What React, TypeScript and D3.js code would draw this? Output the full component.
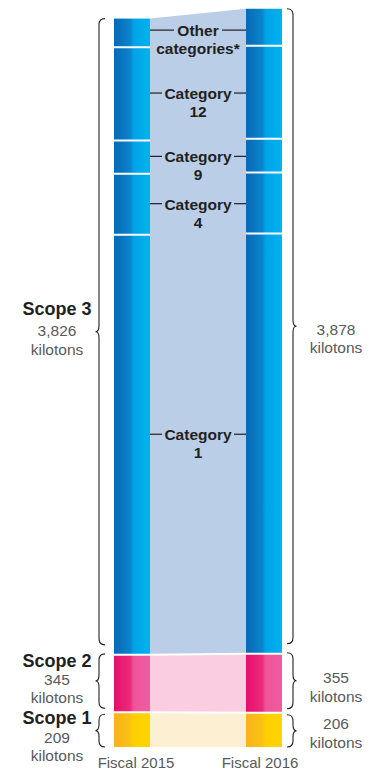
import React from "react";
import * as d3 from "d3";

const years = ["Fiscal 2015", "Fiscal 2016"];
const scopeNames = ["Scope 1", "Scope 2", "Scope 3"];
const scope1 = [209, 206];
const scope2 = [345, 355];
const scope3 = [3826, 3878];
const categoryNames = ["Category 1", "Category 4", "Category 9", "Category 12", "Other categories*"];
const categories2015 = [2526, 367, 200, 560, 173];
const categories2016 = [2526, 367, 204, 559, 222];
const unit = "kilotons";

const W = 373;
const H = 771;
const FONT = "'Liberation Sans', Arial, Helvetica, sans-serif";
const DARK = "#231f20";
const GREY = "#58595b";

function bracePath(x: number, y0: number, y1: number, ym: number, dir: number, end = 6, tip = 3.5) {
  const r = Math.min(6, (y1 - y0) / 4);
  return `M${x - dir * end},${y0} Q${x},${y0} ${x},${y0 + r} L${x},${ym - r} Q${x},${ym} ${x + dir * tip},${ym} Q${x},${ym} ${x},${ym + r} L${x},${y1 - r} Q${x},${y1} ${x - dir * end},${y1}`;
}

export default function App() {
  const x = d3.scaleBand<string>().domain(years).range([114, 282]).paddingInner(0.7273).paddingOuter(0);
  const bw = x.bandwidth();
  const y = d3.scaleLinear().domain([0, 4440]).range([747, 8.6]);

  const scopeVals = [scope1, scope2, scope3];
  const cats = [categories2015, categories2016];

  // cumulative boundaries per year
  const scopeBounds = years.map((_, i) => {
    let c = 0;
    return scopeVals.map((s) => {
      const b = [c, c + s[i]];
      c += s[i];
      return b;
    });
  });
  const catBounds = years.map((_, i) => {
    let c = scope1[i] + scope2[i];
    return cats[i].map((v) => {
      const b = [c, c + v];
      c += v;
      return b;
    });
  });

  const gradIds = ["gY", "gP", "gB"];
  const lightFill = ["#fdf0d2", "#fbcde1", "#bacee8"];

  const xL = x(years[0])!;
  const xR = x(years[1])!;

  const labelShift: Record<string, number> = { "Category 1": -10 };

  // left/right label offsets relative to brace tip (layout only)
  const leftDy = [[-7, 12, 30], [-14, 4, 22], [-17, 4, 23]];
  const rightDy = [[-2, 17], [2, 21], [9, 27]];

  const braces = scopeNames.map((_, s) => {
    return years.map((__, i) => {
      const b = scopeBounds[i][s];
      let y0 = y(b[1]);
      let y1 = y(b[0]);
      if (s === 2) { y1 -= 10; }
      if (s === 1) { y0 -= 1; y1 -= 4; }
      if (s === 0) { y0 += 2; }
      return { y0, y1, ym: (y0 + y1) / 2 };
    });
  });

  return (
    <svg width={W} height={H} style={{ position: "absolute", left: 0, top: 0 }} fontFamily={FONT}>
      <defs>
        <linearGradient id="gB" x1="0" x2="1" y1="0" y2="0">
          <stop offset="0" stopColor="#0a68b4" />
          <stop offset="0.45" stopColor="#0a84cc" />
          <stop offset="0.55" stopColor="#00a3e6" />
          <stop offset="1" stopColor="#00b2ef" />
        </linearGradient>
        <linearGradient id="gP" x1="0" x2="1" y1="0" y2="0">
          <stop offset="0" stopColor="#e60f6c" />
          <stop offset="0.45" stopColor="#ec2a7c" />
          <stop offset="0.55" stopColor="#ef559a" />
          <stop offset="1" stopColor="#ef5c9f" />
        </linearGradient>
        <linearGradient id="gY" x1="0" x2="1" y1="0" y2="0">
          <stop offset="0" stopColor="#f8b21d" />
          <stop offset="0.45" stopColor="#fbc213" />
          <stop offset="0.55" stopColor="#ffd000" />
          <stop offset="1" stopColor="#ffd400" />
        </linearGradient>
      </defs>

      {/* middle bands */}
      {scopeNames.map((_, s) => {
        const a = scopeBounds[0][s];
        const b = scopeBounds[1][s];
        const pts = [
          [xL + bw, y(a[1])],
          [xR, y(b[1])],
          [xR, y(b[0])],
          [xL + bw, y(a[0])],
        ];
        return <polygon key={s} points={pts.map((p) => p.join(",")).join(" ")} fill={lightFill[s]} />;
      })}

      {/* bars */}
      {years.map((yr, i) =>
        scopeBounds[i].map((b, s) => (
          <rect key={yr + s} x={x(yr)} y={y(b[1])} width={bw} height={y(b[0]) - y(b[1])} fill={`url(#${gradIds[s]})`} />
        ))
      )}

      {/* category separators on bars */}
      {years.map((yr, i) =>
        catBounds[i].slice(0, -1).map((b, c) => (
          <line key={yr + "c" + c} x1={x(yr)} x2={x(yr)! + bw} y1={y(b[1])} y2={y(b[1])} stroke="#fff" strokeWidth={2} />
        ))
      )}

      {/* scope separators across */}
      {[0, 1].map((s) => {
        const yl = y(scopeBounds[0][s][1]);
        const yr = y(scopeBounds[1][s][1]);
        return (
          <polyline key={"s" + s} points={`${xL},${yl} ${xL + bw},${yl} ${xR},${yr} ${xR + bw},${yr}`} fill="none" stroke="#fff" strokeWidth={2} />
        );
      })}

      {/* category labels */}
      {categoryNames.map((name, c) => {
        const m0 = (y(catBounds[0][c][0]) + y(catBounds[0][c][1])) / 2;
        const m1 = (y(catBounds[1][c][0]) + y(catBounds[1][c][1])) / 2;
        const ly = (m0 + m1) / 2 + (labelShift[name] || 0);
        const cx = (xL + bw + xR) / 2;
        const parts = name.startsWith("Other") ? ["Other", "categories*"] : ["Category", name.replace("Category ", "")];
        const half = parts[0] === "Other" ? 24 : 36;
        return (
          <g key={name}>
            <line x1={xL + bw} x2={cx - half} y1={ly} y2={ly} stroke={DARK} strokeWidth={1.2} />
            <line x1={cx + half} x2={xR} y1={ly} y2={ly} stroke={DARK} strokeWidth={1.2} />
            <text x={cx} y={ly + 6} textAnchor="middle" fontSize={15.5} fontWeight="bold" fill={DARK}>{parts[0]}</text>
            <text x={cx} y={ly + 24} textAnchor="middle" fontSize={15.5} fontWeight="bold" fill={DARK}>{parts[1]}</text>
          </g>
        );
      })}

      {/* braces */}
      {braces.map((pair, s) => (
        <g key={"b" + s}>
          <path d={bracePath(99, pair[0].y0, pair[0].y1, pair[0].ym, -1)} fill="none" stroke={DARK} strokeWidth={1.1} />
          <path d={bracePath(293, pair[1].y0, pair[1].y1, pair[1].ym, 1)} fill="none" stroke={DARK} strokeWidth={1.1} />
        </g>
      ))}

      {/* left labels */}
      {scopeNames.map((name, s) => {
        const ym = braces[s][0].ym;
        const d = leftDy[s];
        return (
          <g key={"l" + s}>
            <text x={57} y={ym + d[0]} textAnchor="middle" fontSize={18} fontWeight="bold" fill={DARK}>{name}</text>
            <text x={57} y={ym + d[1]} textAnchor="middle" fontSize={15.5} fill={GREY}>{d3.format(",")(scopeVals[s][0])}</text>
            <text x={57} y={ym + d[2]} textAnchor="middle" fontSize={15.5} fill={GREY}>{unit}</text>
          </g>
        );
      })}

      {/* right labels */}
      {scopeNames.map((name, s) => {
        const ym = braces[s][1].ym;
        const d = rightDy[s];
        return (
          <g key={"r" + s}>
            <text x={336} y={ym + d[0]} textAnchor="middle" fontSize={15.5} fill={GREY}>{d3.format(",")(scopeVals[s][1])}</text>
            <text x={336} y={ym + d[1]} textAnchor="middle" fontSize={15.5} fill={GREY}>{unit}</text>
          </g>
        );
      })}

      {/* year labels */}
      {years.map((yr, i) => (
        <text key={yr} x={x(yr)! + bw / 2 + (i === 0 ? 4 : -4)} y={768} textAnchor="middle" fontSize={15} fill={GREY}>{yr}</text>
      ))}
    </svg>
  );
}
